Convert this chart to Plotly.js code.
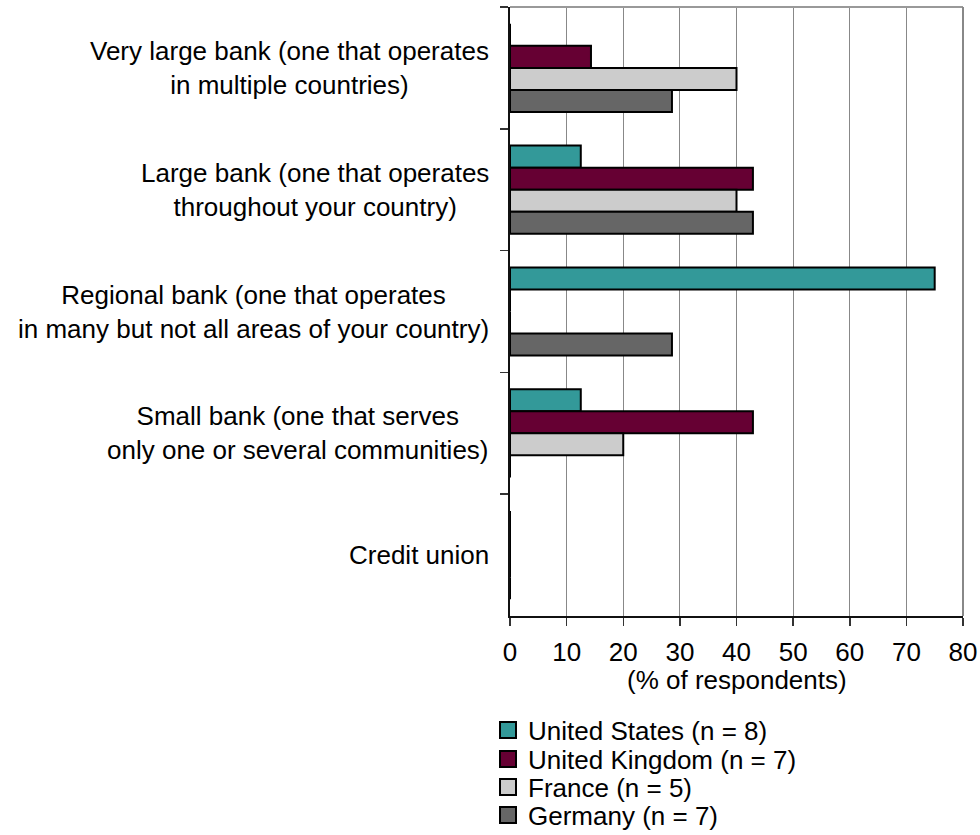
<!DOCTYPE html>
<html>
<head>
<meta charset="utf-8">
<script src="https://cdn.plot.ly/plotly-3.0.1.min.js"></script>
<style>html,body{margin:0;padding:0;background:#fff;}#chart{width:980px;height:835px;}</style>
</head>
<body>
<div id="chart"></div>
<script>
const categories = [
  "Very large bank (one that operates<br>in multiple countries)",
  "Large bank (one that operates<br>throughout your country)",
  "Regional bank (one that operates<br>in many but not all areas of your country)",
  "Small bank (one that serves<br>only one or several communities)",
  "Credit union"
];
const seriesNames = ["United States (n = 8)", "United Kingdom (n = 7)", "France (n = 5)", "Germany (n = 7)"];
const usValues = [0, 12.5, 75, 12.5, 0];
const ukValues = [14.3, 42.9, 0, 42.9, 0];
const franceValues = [40, 40, 0, 20, 0];
const germanyValues = [28.6, 42.9, 28.6, 0, 0];
const seriesColors = ["#339999", "#660033", "#cccccc", "#666666"];
const xTicks = [0, 10, 20, 30, 40, 50, 60, 70, 80];
const xTitle = "(% of respondents)";

const FONT = "'Liberation Sans', Arial, sans-serif";
const FS = 26;
const allValues = [usValues, ukValues, franceValues, germanyValues];

// plot area in pixels
const PL = 510, PR = 963, PT = 7, PB = 616;
const W = 980, H = 835;

const traces = allValues.map((vals, i) => ({
  type: "bar",
  orientation: "h",
  y: categories,
  x: vals,
  name: seriesNames[i],
  showlegend: false,
  marker: {color: seriesColors[i], line: {color: "#000", width: 2}},
  hoverinfo: "x+name"
}));

const legendIds = ["legend", "legend2", "legend3", "legend4"];
// legend entries (square markers), one legend per row
allValues.forEach((vals, i) => {
  traces.push({
    type: "scatter",
    mode: "markers",
    x: [null], y: [null],
    name: seriesNames[i],
    legend: legendIds[i],
    marker: {symbol: "square", size: 16, color: seriesColors[i], line: {color: "#000", width: 2}},
    showlegend: true
  });
});

const annotations = categories.map(c => ({
  xref: "paper", yref: "y",
  x: 0, y: c,
  xanchor: "right", yanchor: "middle",
  xshift: -19,
  align: "center",
  text: c,
  showarrow: false,
  font: {family: FONT, size: FS, color: "#000"}
}));
// x-axis title
annotations.push({
  xref: "paper", yref: "paper",
  x: 0.5, y: (PB - 680) / (PB - PT),
  xanchor: "center", yanchor: "middle",
  text: xTitle,
  showarrow: false,
  font: {family: FONT, size: FS, color: "#000"}
});

const legendRowsPx = [730, 759, 787, 815];
const legendX = (488 - PL) / (PR - PL);

const layout = {
  width: W, height: H,
  margin: {l: PL, r: W - PR, t: PT, b: H - PB, autoexpand: false},
  paper_bgcolor: "#fff", plot_bgcolor: "#fff",
  barmode: "group",
  bargap: 0.276,
  bargroupgap: 0,
  font: {family: FONT, size: FS, color: "#000"},
  xaxis: {
    range: [0, 80],
    tickvals: xTicks,
    ticktext: xTicks.map(String),
    ticks: "outside", ticklen: 8, tickwidth: 1.5, tickcolor: "#333",
    ticklabelstandoff: 4,
    showgrid: true, gridcolor: "#888", gridwidth: 1,
    showline: true, linecolor: "#111", linewidth: 2,
    mirror: false,
    zeroline: false,
    automargin: false,
    tickfont: {family: FONT, size: FS, color: "#000"},
    fixedrange: true
  },
  yaxis: {
    type: "category",
    categoryorder: "array",
    categoryarray: categories,
    autorange: "reversed",
    showticklabels: false,
    tickson: "boundaries",
    ticks: "outside", ticklen: 8, tickwidth: 1.5, tickcolor: "#333",
    showgrid: false,
    showline: true, linecolor: "#111", linewidth: 2,
    zeroline: false,
    automargin: false,
    fixedrange: true
  },
  shapes: [
    {type: "line", xref: "paper", yref: "paper", x0: 0, x1: 1, y0: 1, y1: 1, line: {color: "#999", width: 2}},
    {type: "line", xref: "paper", yref: "paper", x0: 1, x1: 1, y0: 0, y1: 1, line: {color: "#888", width: 2}}
  ],
  annotations: annotations,
  showlegend: true
};

legendIds.forEach((id, i) => {
  layout[id] = {
    x: legendX, xanchor: "left",
    y: (PB - legendRowsPx[i]) / (PB - PT), yanchor: "middle",
    xref: "paper", yref: "paper",
    bgcolor: "rgba(0,0,0,0)",
    borderwidth: 0,
    font: {family: FONT, size: FS, color: "#000"},
    itemwidth: 30
  };
});

Plotly.newPlot("chart", traces, layout, {displayModeBar: false, staticPlot: true});
</script>
</body>
</html>
